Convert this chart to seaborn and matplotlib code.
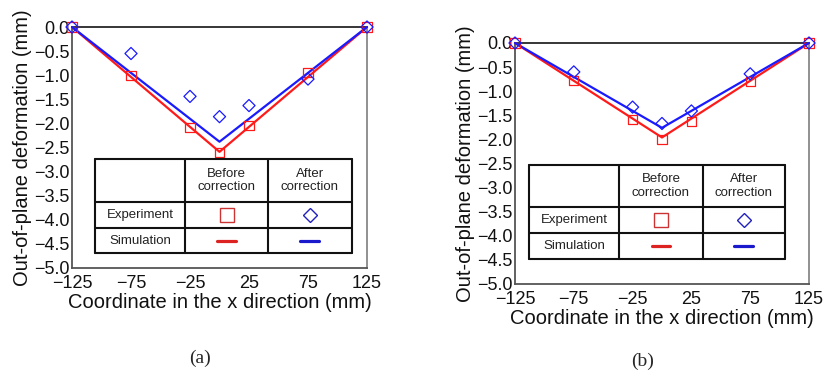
import numpy as np
import pandas as pd
import matplotlib
matplotlib.use("Agg")
import matplotlib.pyplot as plt
from matplotlib.patches import Rectangle
import seaborn as sns

# Measurement positions along the x direction (mm)
x_exp = [-125, -75, -25, 0, 25, 75, 125]
x_sim = [-125, 0, 125]

# Panel (a): out-of-plane deformation (mm)
exp_before_a = [0.0, -1.00, -2.08, -2.61, -2.05, -0.95, 0.0]
exp_after_a = [0.0, -0.55, -1.44, -1.86, -1.63, -1.08, 0.0]
sim_before_a = [0.0, -2.59, 0.0]
sim_after_a = [0.0, -2.38, 0.0]

# Panel (b): out-of-plane deformation (mm)
exp_before_b = [0.0, -0.78, -1.58, -2.00, -1.62, -0.79, 0.0]
exp_after_b = [0.0, -0.60, -1.33, -1.67, -1.41, -0.64, 0.0]
sim_before_b = [0.0, -1.96, 0.0]
sim_after_b = [0.0, -1.76, 0.0]

x_ticks = [-125, -75, -25, 25, 75, 125]
y_ticks = [0.0, -0.5, -1.0, -1.5, -2.0, -2.5, -3.0, -3.5, -4.0, -4.5, -5.0]

x_label = "Coordinate in the x direction (mm)"
y_label = "Out-of-plane deformation (mm)"
panel_tags = ["(a)", "(b)"]
row_names = ["Experiment", "Simulation"]
col_names = ["Before\ncorrection", "After\ncorrection"]

RED = "#ff1a1a"
BLUE = "#1a1aff"

sns.set_theme(style="white")
plt.rcParams["font.family"] = ["Liberation Sans", "DejaVu Sans"]
plt.rcParams["axes.unicode_minus"] = True

fig = plt.figure(figsize=(8.24, 3.75), dpi=100)
ax_a = fig.add_axes([72 / 824, 1 - 268 / 375, 295 / 824, 241 / 375])
ax_b = fig.add_axes([515 / 824, 1 - 284 / 375, 294 / 824, 241 / 375])


def draw_panel(ax, eb, ea, sb, sa):
    exp = pd.DataFrame({"x": x_exp * 2, "y": eb + ea,
                        "case": ["before"] * len(eb) + ["after"] * len(ea)})
    sim = pd.DataFrame({"x": x_sim * 2, "y": sb + sa,
                        "case": ["before"] * len(sb) + ["after"] * len(sa)})
    sns.lineplot(data=sim[sim.case == "before"], x="x", y="y", color=RED,
                 lw=1.6, ax=ax, legend=False, zorder=3)
    sns.lineplot(data=sim[sim.case == "after"], x="x", y="y", color=BLUE,
                 lw=1.6, ax=ax, legend=False, zorder=4)
    sns.scatterplot(data=exp[exp.case == "before"], x="x", y="y", marker="s",
                    s=42, facecolor="none", edgecolor=RED, linewidth=0.9,
                    ax=ax, legend=False, zorder=5)
    sns.scatterplot(data=exp[exp.case == "after"], x="x", y="y", marker="D",
                    s=38, facecolor="none", edgecolor=BLUE, linewidth=0.9,
                    ax=ax, legend=False, zorder=6)
    for art in ax.collections + ax.lines:
        art.set_clip_on(False)

    ax.set_xlim(-125, 125)
    ax.set_ylim(-5, 0)
    ax.set_xticks(x_ticks)
    ax.set_yticks(y_ticks)
    ax.set_xticklabels([f"{v:d}".replace("-", "\u2212") for v in x_ticks])
    ax.set_yticklabels([f"{v:.1f}".replace("-", "\u2212") for v in y_ticks])
    ax.tick_params(axis="both", direction="in", length=4, width=0.9,
                   color="#555555", labelsize=13, labelcolor="#111111")
    ax.tick_params(axis="x", pad=5)
    ax.tick_params(axis="y", pad=2)
    ax.set_xlabel(x_label, fontsize=14.5, labelpad=1, color="#111111")
    ax.set_ylabel(y_label, fontsize=14.5, labelpad=1, color="#111111")
    for side in ["left", "bottom"]:
        ax.spines[side].set_color("#555555")
        ax.spines[side].set_linewidth(1.3)
    ax.spines["right"].set_color("#888888")
    ax.spines["right"].set_linewidth(1.3)
    ax.spines["top"].set_color("#000000")
    ax.spines["top"].set_linewidth(1.1)
    ax.set_facecolor("white")


def draw_table(ax, xs, ys):
    # xs: column edges, ys: row edges (top to bottom), both in axes fraction
    tr = ax.transAxes
    ax.add_patch(Rectangle((xs[0], ys[-1]), xs[-1] - xs[0], ys[0] - ys[-1],
                           transform=tr, facecolor="white", edgecolor="none",
                           zorder=6.5))
    kw = dict(color="#111111", lw=1.5, transform=tr, clip_on=False, zorder=7)
    for xv in xs:
        ax.plot([xv, xv], [ys[-1], ys[0]], **kw)
    for yv in ys:
        ax.plot([xs[0], xs[-1]], [yv, yv], **kw)
    tkw = dict(transform=tr, ha="center", va="center", fontsize=9.5,
               color="#222222", zorder=8, linespacing=1.15)
    cx = [(xs[i] + xs[i + 1]) / 2 for i in range(3)]
    cy = [(ys[i] + ys[i + 1]) / 2 for i in range(3)]
    ax.text(cx[1], cy[0], col_names[0], **tkw)
    ax.text(cx[2], cy[0], col_names[1], **tkw)
    ax.text(cx[0], cy[1], row_names[0], **tkw)
    ax.text(cx[0], cy[2], row_names[1], **tkw)
    ax.plot([cx[1]], [cy[1]], marker="s", ms=9.5, mfc="none", mec="#cc3333",
            mew=1.0, transform=tr, zorder=8, clip_on=False)
    ax.plot([cx[2]], [cy[1]], marker="D", ms=7.6, mfc="none", mec="#2222bb",
            mew=1.0, transform=tr, zorder=8, clip_on=False)
    half = 9.5 / 295
    ax.plot([cx[1] - half, cx[1] + half], [cy[2], cy[2]], color="#dd2222",
            lw=2.3, transform=tr, zorder=8, clip_on=False)
    ax.plot([cx[2] - half, cx[2] + half], [cy[2], cy[2]], color="#1a1acc",
            lw=2.3, transform=tr, zorder=8, clip_on=False)


draw_panel(ax_a, exp_before_a, exp_after_a, sim_before_a, sim_after_a)
draw_panel(ax_b, exp_before_b, exp_after_b, sim_before_b, sim_after_b)

draw_table(ax_a, [0.077, 0.384, 0.665, 0.948], [0.451, 0.275, 0.167, 0.061])
draw_table(ax_b, [0.047, 0.355, 0.638, 0.919], [0.494, 0.318, 0.212, 0.105])

fig.text(200 / 824, 1 - 358 / 375, panel_tags[0], ha="center", va="center",
         fontsize=14, family=["Liberation Serif", "DejaVu Serif"])
fig.text(643 / 824, 1 - 361 / 375, panel_tags[1], ha="center", va="center",
         fontsize=14, family=["Liberation Serif", "DejaVu Serif"])

fig.savefig("out.png", dpi=100, facecolor="white")
